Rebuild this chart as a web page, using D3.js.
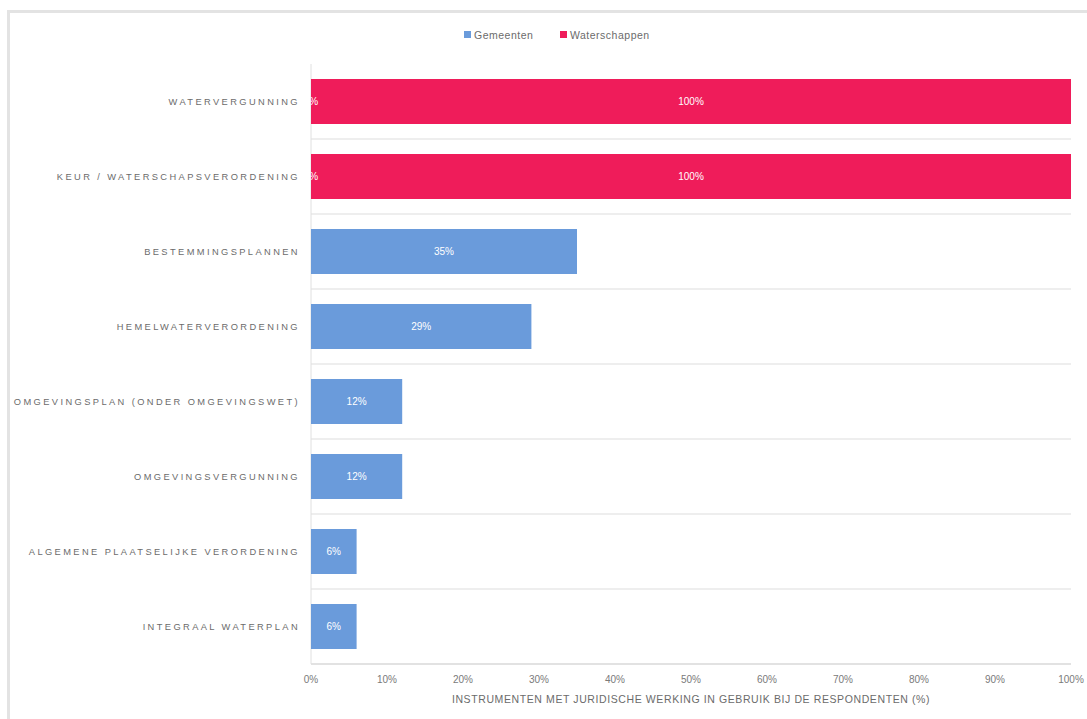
<!DOCTYPE html>
<html><head><meta charset="utf-8">
<script src="https://cdn.jsdelivr.net/npm/d3@7"></script>
<style>body{margin:0;background:#fff;} text{font-family:"Liberation Sans",Arial,sans-serif;}</style>
</head><body><svg id="c" width="1087" height="719"></svg>
<script>
const categories = ["WATERVERGUNNING","KEUR / WATERSCHAPSVERORDENING","BESTEMMINGSPLANNEN","HEMELWATERVERORDENING","OMGEVINGSPLAN (ONDER OMGEVINGSWET)","OMGEVINGSVERGUNNING","ALGEMENE PLAATSELIJKE VERORDENING","INTEGRAAL WATERPLAN"];
const gemeenten = [0,0,35,29,12,12,6,6];
const waterschappen = [100,100,0,0,0,0,0,0];
const seriesNames = ["Gemeenten","Waterschappen"];
const colors = ["#6a9bdb","#ef1c5a"];
const xTicks = [0,10,20,30,40,50,60,70,80,90,100];
const xTitle = "INSTRUMENTEN MET JURIDISCHE WERKING IN GEBRUIK BIJ DE RESPONDENTEN (%)";

const svg = d3.select("#c");
// frame
svg.append("rect").attr("x",8.5).attr("y",11.5).attr("width",1090).attr("height",720)
  .attr("fill","none").attr("stroke","#e3e3e3").attr("stroke-width",3);

const m = {l:311,r:1071,t:64,b:664};
const x = d3.scaleLinear().domain([0,100]).range([m.l,m.r]);
const y = d3.scaleBand().domain(categories).range([m.t,m.b]).paddingInner(0.4).paddingOuter(0.2);

const data = categories.map((c,i)=>({cat:c,Gemeenten:gemeenten[i],Waterschappen:waterschappen[i]}));
const stack = d3.stack().keys(seriesNames)(data);

// separators
const step = y.step();
categories.forEach((c,i)=>{
  if(i>0){
    const yy = y(c) - step*0.2;
    svg.append("line").attr("x1",m.l).attr("x2",m.r).attr("y1",yy).attr("y2",yy).attr("stroke","#e8e8e8").attr("stroke-width",1.5);
  }
});
svg.append("line").attr("x1",m.l).attr("x2",m.r).attr("y1",m.b).attr("y2",m.b).attr("stroke","#d9d9d9").attr("stroke-width",1.5);
svg.append("line").attr("x1",m.l).attr("x2",m.l).attr("y1",m.t).attr("y2",m.b).attr("stroke","#e0e0e0").attr("stroke-width",1);

svg.append("defs").append("clipPath").attr("id","pc").append("rect").attr("x",m.l).attr("y",0).attr("width",m.r-m.l).attr("height",719);

const g = svg.append("g");
stack.forEach((s,si)=>{
  g.selectAll(null).data(s).join("rect")
    .attr("x",d=>x(d[0])).attr("width",d=>x(d[1])-x(d[0]))
    .attr("y",d=>y(d.data.cat)).attr("height",y.bandwidth())
    .attr("fill",colors[si]);
});
const lg = svg.append("g").attr("clip-path","url(#pc)");
stack.forEach((s,si)=>{
  lg.selectAll(null).data(s.filter((d,i)=> (d[1]-d[0])>0 || (si===0 && waterschappen[i]>0))).join("text")
    .attr("x",d=>(x(d[0])+x(d[1]))/2).attr("y",d=>y(d.data.cat)+y.bandwidth()/2+3.5)
    .attr("text-anchor","middle").attr("fill","#fff").attr("font-size",10)
    .text(d=>Math.round(d[1]-d[0])+"%");
});

// category labels
svg.selectAll(null).data(categories).join("text")
  .attr("x",300).attr("y",d=>y(d)+y.bandwidth()/2+3.5)
  .attr("text-anchor","end").attr("fill","#6b6b6b").attr("font-size",9.3)
  .attr("letter-spacing","2.4px").text(d=>d);

// x ticks
svg.selectAll(null).data(xTicks).join("text")
  .attr("x",d=>x(d)).attr("y",683).attr("text-anchor","middle")
  .attr("fill","#7a7a7a").attr("font-size",10).text(d=>d+"%");
svg.append("text").attr("x",691).attr("y",703).attr("text-anchor","middle")
  .attr("fill","#6b6b6b").attr("font-size",10.5).attr("letter-spacing","0.6px").text(xTitle);

// legend
const leg = svg.append("g");
const items = [{n:"Gemeenten",x:464},{n:"Waterschappen",x:560}];
items.forEach((it,i)=>{
  leg.append("rect").attr("x",it.x).attr("y",31).attr("width",7).attr("height",7).attr("fill",colors[i]);
  leg.append("text").attr("x",it.x+10).attr("y",38.5).attr("fill","#6b6b6b").attr("font-size",10.5).attr("letter-spacing","0.5px").text(it.n);
});
</script></body></html>
